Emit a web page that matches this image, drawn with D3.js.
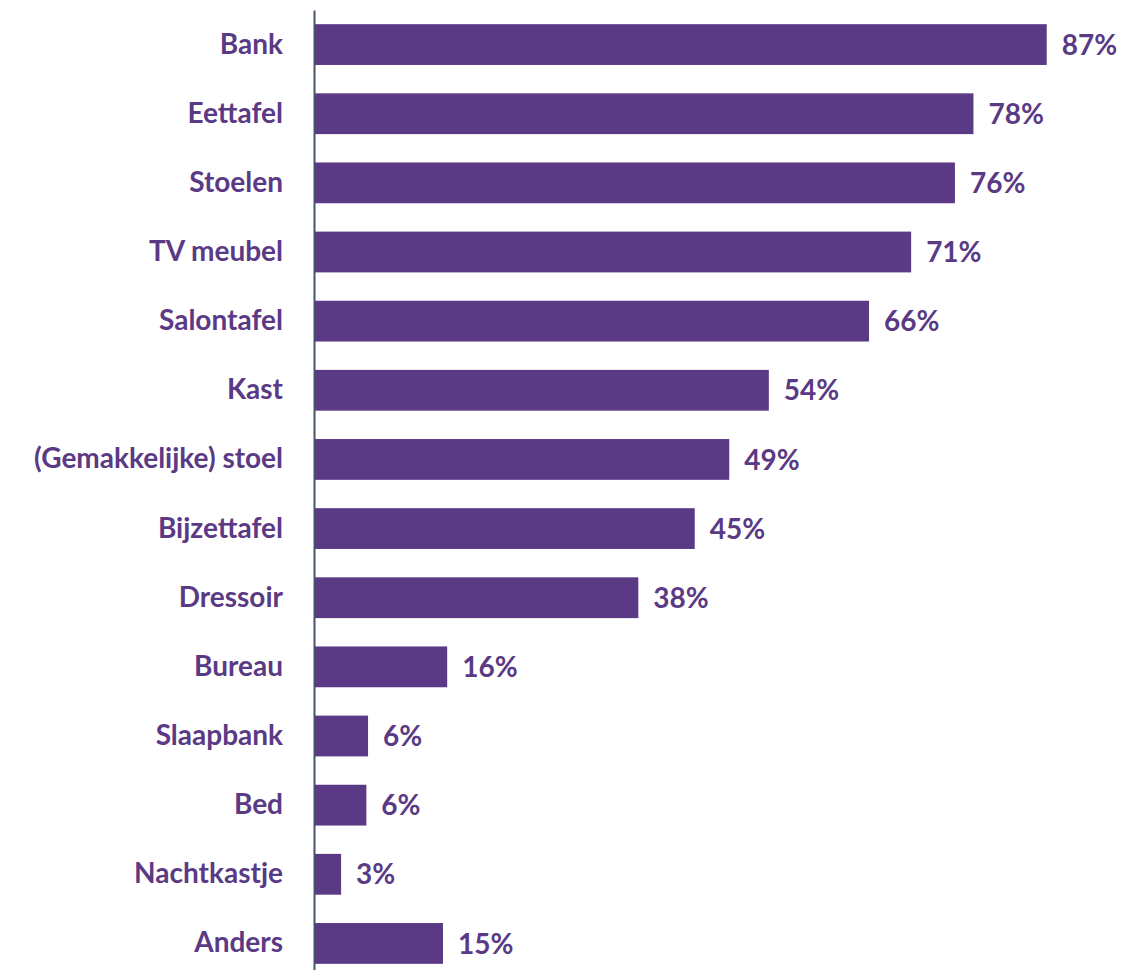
<!DOCTYPE html>
<html>
<head>
<meta charset="utf-8">
<script src="https://cdn.jsdelivr.net/npm/d3@7"></script>
<style>
  html, body { margin: 0; padding: 0; background: #fff; }
  svg { display: block; }
</style>
</head>
<body>
<svg id="chart" width="1123" height="970"></svg>
<script>
// Données
const categories = ["Bank", "Eettafel", "Stoelen", "TV meubel", "Salontafel", "Kast",
  "(Gemakkelijke) stoel", "Bijzettafel", "Dressoir", "Bureau", "Slaapbank", "Bed",
  "Nachtkastje", "Anders"];
const valeurs = [86.9, 78.2, 76.0, 70.8, 65.8, 53.9, 49.2, 45.1, 38.4, 15.7, 6.3, 6.1, 3.1, 15.2];
const etiquettes = ["87%", "78%", "76%", "71%", "66%", "54%", "49%", "45%", "38%", "16%", "6%", "6%", "3%", "15%"];

const violet = "#5B3A85";
const police = "Lato, 'Open Sans', sans-serif";

const svg = d3.select("#chart");

// Echelles
const x = d3.scaleLinear().domain([0, 100]).range([315, 1157]);
const y = d3.scaleBand().domain(categories).range([10, 978])
  .paddingInner(0.41).paddingOuter(0.205);

// Barres
svg.append("g").selectAll("rect").data(categories).join("rect")
  .attr("x", x(0))
  .attr("y", d => y(d))
  .attr("width", (d, i) => x(valeurs[i]) - x(0))
  .attr("height", y.bandwidth())
  .attr("fill", violet);

// Valeurs
svg.append("g").selectAll("text").data(categories).join("text")
  .attr("x", (d, i) => x(valeurs[i]) + 15)
  .attr("y", d => y(d) + y.bandwidth() / 2)
  .attr("dy", "0.36em")
  .attr("fill", violet)
  .attr("font-family", police)
  .attr("font-weight", "bold")
  .attr("font-size", 28)
  .text((d, i) => etiquettes[i]);

// Axe vertical + libellés
const axe = svg.append("g")
  .attr("transform", `translate(${x(0) - 1},0)`)
  .call(d3.axisLeft(y).tickSize(0).tickSizeOuter(0).tickPadding(31));
axe.select(".domain").attr("stroke", "#44546A").attr("stroke-width", 2);
axe.selectAll("text")
  .attr("fill", violet)
  .attr("font-family", police)
  .attr("font-weight", "bold")
  .attr("font-size", 28);
</script>
</body>
</html>
